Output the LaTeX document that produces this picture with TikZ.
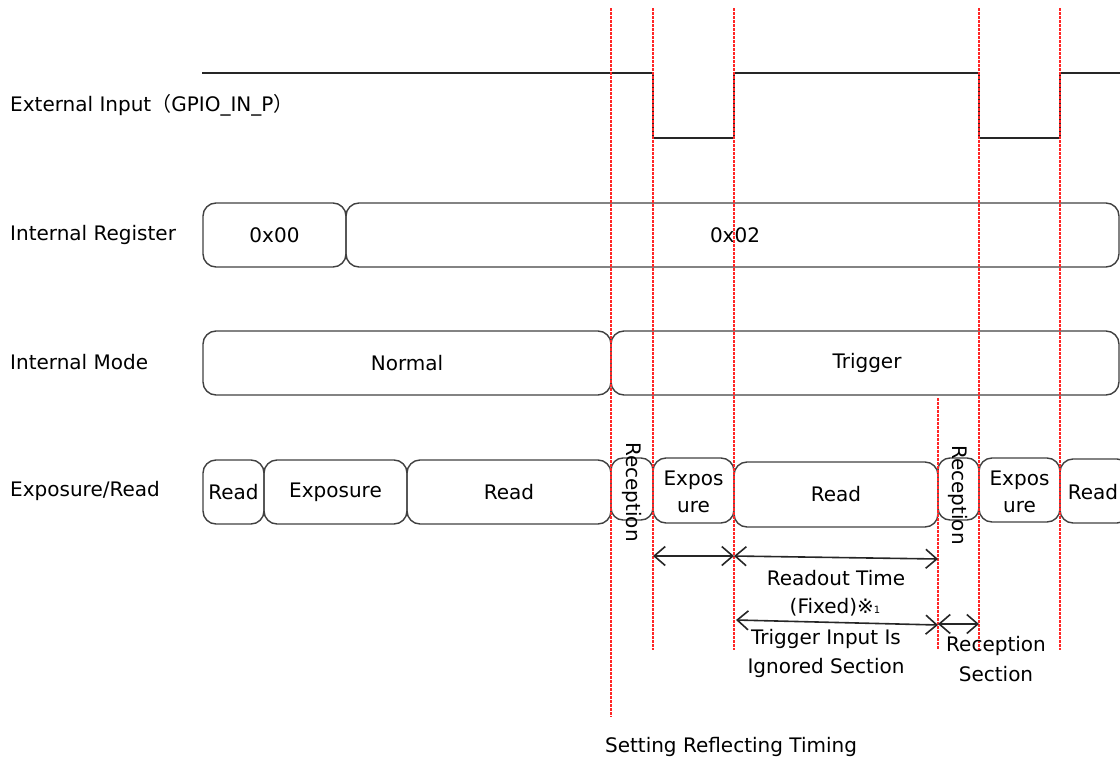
\documentclass[tikz,border=0pt]{standalone}
\usepackage{fontspec}
\setmainfont{DejaVu Sans}
\newfontfamily\cjk{Noto Sans CJK JP}
\usetikzlibrary{arrows.meta}
\begin{document}
\begin{tikzpicture}[x=1pt,y=-1pt,
  every node/.style={font=\fontsize{20}{24}\selectfont, text=black},
  box/.style={draw=black!75, line width=1.4pt, rounded corners=13pt, inner sep=0pt},
  lbl/.style={anchor=west, inner sep=0pt},
  sig/.style={draw=black!85, line width=2pt},
  guide/.style={draw=red!85, line width=1.1pt, dash pattern=on 2.5pt off 1.5pt},
  dim/.style={draw=black!85, line width=1.6pt, {Straight Barb[length=11pt,width=19pt]}-{Straight Barb[length=11pt,width=19pt]}},
  txt/.style={inner sep=0pt, align=center}]
\useasboundingbox (0,0) rectangle (1120,763);

% row labels
\node[lbl] (l1) at (10,105) {External Input{\cjk （}GPIO\_IN\_P{\cjk ）}};
\node[lbl] (l2) at (10,235) {Internal Register};
\node[lbl] (l3) at (10,362) {Internal Mode};
\node[lbl] (l4) at (10,491) {Exposure/Read};

% external input waveform
\coordinate (s0) at (202,73);
\coordinate (s1) at (653,73);
\coordinate (s2) at (653,138);
\coordinate (s3) at (734,138);
\coordinate (s4) at (734,73);
\coordinate (s5) at (979,73);
\coordinate (s6) at (979,138);
\coordinate (s7) at (1060,138);
\coordinate (s8) at (1060,73);
\coordinate (s9) at (1122,73);
\draw[sig] (s0) -- (s1) -- (s2) -- (s3) -- (s4) -- (s5) -- (s6) -- (s7) -- (s8) -- (s9);

% internal register
\node[box, minimum width=143pt, minimum height=64pt] (r0) at (274.5,235) {0x00};
\node[box, minimum width=773pt, minimum height=64pt] (r2) at (732.5,235) {};
\node (r2t) at (735,235) {0x02};

% internal mode
\node[box, minimum width=408pt, minimum height=64pt] (mn) at (407,363) {Normal};
\node[box, minimum width=508pt, minimum height=64pt] (mt) at (865,363) {};
\node (mtt) at (867,363) {Trigger};

% exposure / read
\node[box, minimum width=61pt, minimum height=64pt] (e1) at (233.5,492) {Read};
\node[box, minimum width=143pt, minimum height=64pt] (e2) at (335.5,492) {Exposure};
\node[box, minimum width=204pt, minimum height=64pt] (e3) at (509,492) {Read};
\node[box, minimum width=42pt, minimum height=62pt, rounded corners=12pt] (e4) at (632,489) {};
\node[txt, rotate=-90] (e4t) at (632,492) {Reception};
\node[box, minimum width=81pt, minimum height=65pt] (e5) at (693.5,490.5) {};
\node[txt] (e5t) at (693.5,492) {Expos\\[3pt]ure};
\node[box, minimum width=204pt, minimum height=65pt] (e6) at (836,494.5) {Read};
\node[box, minimum width=41pt, minimum height=62pt, rounded corners=12pt] (e7) at (958.5,489) {};
\node[txt, rotate=-90] (e7t) at (958.5,495) {Reception};
\node[box, minimum width=81pt, minimum height=64pt] (e8) at (1019.5,490) {};
\node[txt] (e8t) at (1019.5,492) {Expos\\[3pt]ure};
\node[box, minimum width=70pt, minimum height=64pt] (e9) at (1095,491) {};
\node (e9t) at (1093,492) {Read};

% guide lines
\coordinate (g1a) at (611,8);   \coordinate (g1b) at (611,717);
\coordinate (g2a) at (653,8);   \coordinate (g2b) at (653,650);
\coordinate (g3a) at (734,8);   \coordinate (g3b) at (734,650);
\coordinate (g4a) at (938,398); \coordinate (g4b) at (938,650);
\coordinate (g5a) at (979,8);   \coordinate (g5b) at (979,650);
\coordinate (g6a) at (1060,8);  \coordinate (g6b) at (1060,650);
\draw[guide] (g1a) -- (g1b);
\draw[guide] (g2a) -- (g2b);
\draw[guide] (g3a) -- (g3b);
\draw[guide] (g4a) -- (g4b);
\draw[guide] (g5a) -- (g5b);
\draw[guide] (g6a) -- (g6b);

% dimension arrows
\coordinate (d1a) at (653,556); \coordinate (d1b) at (734,556);
\coordinate (d2a) at (734,556); \coordinate (d2b) at (938,559);
\coordinate (d3a) at (736,620); \coordinate (d3b) at (938,625);
\coordinate (d4a) at (938,624); \coordinate (d4b) at (979,624);
\draw[dim] (d1a) -- (d1b);
\draw[dim] (d2a) -- (d2b);
\draw[dim] (d3a) -- (d3b);
\draw[dim] (d4a) -- (d4b);

% annotation texts
\node[txt] (t1) at (836,578) {Readout Time};
\node[txt] (t2) at (835,607) {(Fixed)※{\fontsize{10}{12}\selectfont 1}};
\node[txt] (t3) at (826,639) {Trigger Input Is};
\node[txt] (t4) at (826,668) {Ignored Section};
\node[txt] (t5) at (996,646) {Reception};
\node[txt] (t6) at (996,674) {Section};
\node[txt] (t7) at (731,747) {Setting Reflecting Timing};
\end{tikzpicture}
\end{document}
